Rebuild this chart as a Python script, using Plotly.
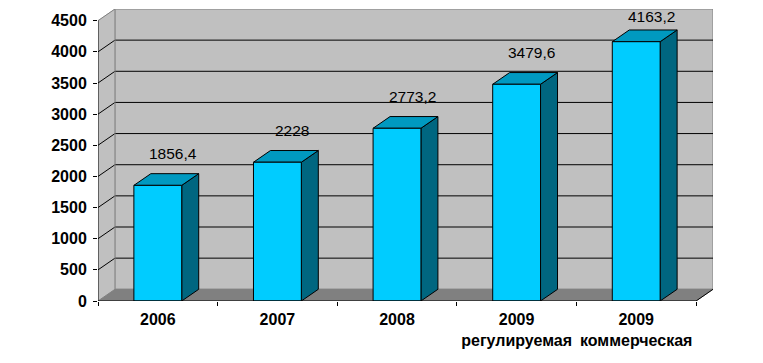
import plotly.graph_objects as go

categories = ["2006", "2007", "2008", "2009<br>регулируемая", "2009<br>коммерческая"]
values = [1856.4, 2228, 2773.2, 3479.6, 4163.2]
value_labels = ["1856,4", "2228", "2773,2", "3479,6", "4163,2"]
y_ticks = [0, 500, 1000, 1500, 2000, 2500, 3000, 3500, 4000, 4500]

Y_MAX = 4500
DX = 0.142   # depth offset in category units
DY = 188     # depth offset in value units
BW = 0.2     # half bar width
n = len(categories)
x0, x1 = -0.5, n - 0.5

WALL = "#c0c0c0"
FLOOR = "#808080"
EDGE = "#808080"
FRONT = "#00ccff"
TOP = "#0099c0"
SIDE = "#006680"
FONT = "Liberation Sans, Arial"

fig = go.Figure()

def poly(xs, ys, fill, line="black", width=1):
    fig.add_trace(go.Scatter(x=xs + [xs[0]], y=ys + [ys[0]], mode="lines", fill="toself",
                             fillcolor=fill, line=dict(color=line, width=width),
                             hoverinfo="skip", showlegend=False))

def seg(xs, ys, color="black", width=1):
    fig.add_trace(go.Scatter(x=xs, y=ys, mode="lines", line=dict(color=color, width=width),
                             hoverinfo="skip", showlegend=False))

# back wall
poly([x0 + DX, x1 + DX, x1 + DX, x0 + DX], [DY, DY, Y_MAX + DY, Y_MAX + DY], WALL, EDGE)
# side wall
poly([x0, x0 + DX, x0 + DX, x0], [0, DY, Y_MAX + DY, Y_MAX], WALL, WALL)
# floor
poly([x0, x1, x1 + DX, x0 + DX], [0, 0, DY, DY], FLOOR, FLOOR)

# gridlines on back and side walls
for v in y_ticks[1:-1]:
    seg([x0, x0 + DX, x1 + DX], [v, v + DY, v + DY])
seg([x0, x0 + DX], [Y_MAX, Y_MAX + DY], EDGE)
seg([x0 + DX, x0 + DX], [DY, Y_MAX + DY], EDGE)
seg([x1, x1 + DX], [0, DY])

# bars
for i, v in enumerate(values):
    poly([i + BW, i + BW + DX, i + BW + DX, i + BW], [0, DY, v + DY, v], SIDE)
    poly([i - BW, i + BW, i + BW + DX, i - BW + DX], [v, v, v + DY, v + DY], TOP)
    poly([i - BW, i + BW, i + BW, i - BW], [0, 0, v, v], FRONT)

# front axes
seg([x0, x0], [0, Y_MAX])
seg([x0, x1], [0, 0])

for i, (v, t) in enumerate(zip(values, value_labels)):
    fig.add_annotation(x=i, y=min(v + 510, 4560), text=t, showarrow=False, xshift=15,
                       font=dict(family=FONT, size=15.5, color="black"))

fig.update_layout(
    width=755, height=355,
    margin=dict(l=90, r=50, t=1, b=62),
    paper_bgcolor="white", plot_bgcolor="white",
    showlegend=False,
    font=dict(family=FONT, size=15, color="black"),
    xaxis=dict(range=[x0, x1 + DX], tickvals=list(range(n)), ticktext=categories,
               showgrid=False, zeroline=False, showline=False, ticks="", ticklen=0,
               automargin=False,
               tickfont=dict(family=FONT, size=16, color="black", weight="bold"),
               ticklabelstandoff=7,
               minor=dict(tickvals=[k - 0.5 for k in range(n + 1)], ticks="outside",
                          ticklen=4, tickcolor="black", tickwidth=1, showgrid=False)),
    yaxis=dict(range=[0, Y_MAX + DY], tickvals=y_ticks, ticktext=[str(t) for t in y_ticks],
               showgrid=False, zeroline=False, showline=False, ticks="outside", ticklen=4,
               automargin=False,
               tickcolor="black", ticklabelstandoff=3,
               tickfont=dict(family=FONT, size=16, color="black", weight="bold")),
)

fig.write_html("out.html")
